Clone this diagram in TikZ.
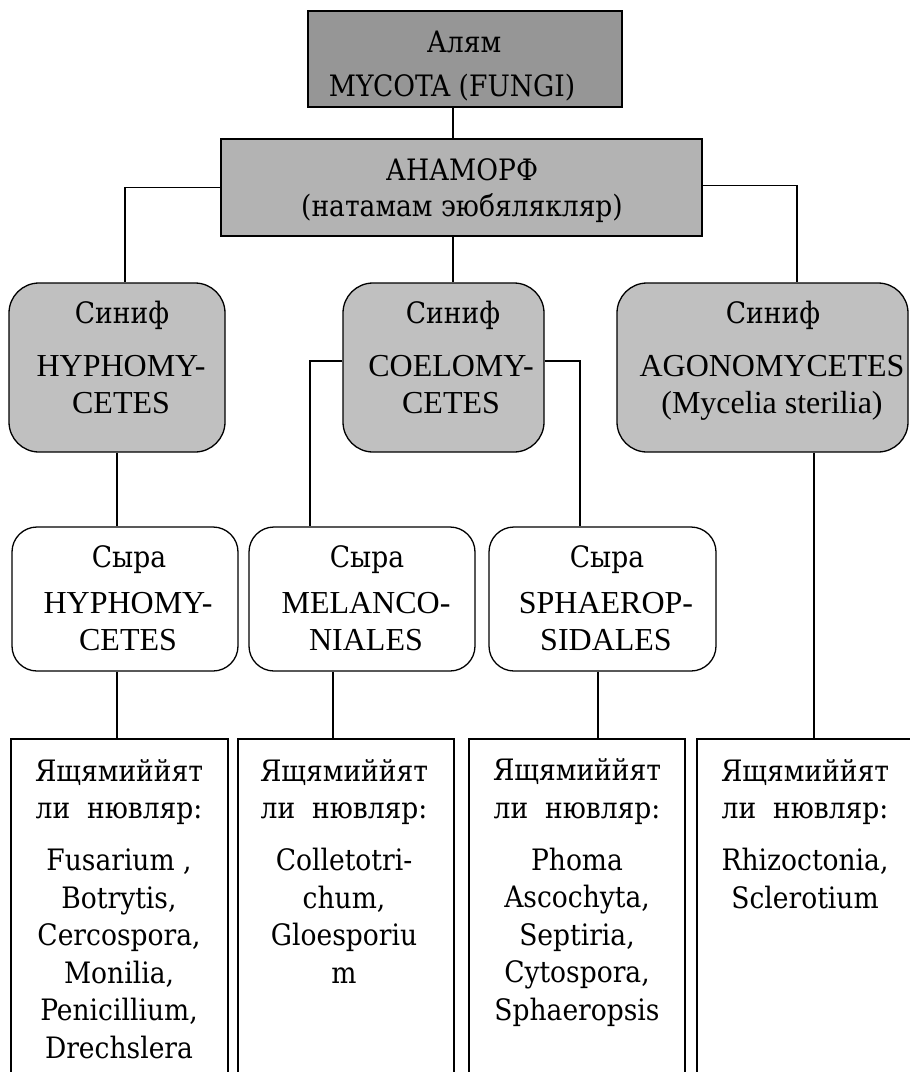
\documentclass[tikz,border=0pt]{standalone}
\usepackage{fontspec}
\setmainfont{DejaVu Serif Condensed}
\newfontfamily\tms{Liberation Serif}
\definecolor{gTop}{RGB}{150,150,150}
\definecolor{gAna}{RGB}{179,179,179}
\definecolor{gCls}{RGB}{192,192,192}
\begin{document}
\begin{tikzpicture}[x=1pt,y=-1pt,
  sqbox/.style={draw=black, line width=1.3pt, inner sep=0pt},
  rbox/.style={sqbox, rounded corners=30pt},
  obox/.style={sqbox, rounded corners=25pt, fill=white},
  conn/.style={draw=black, line width=1.2pt},
  cam/.style={font=\fontsize{29.5}{37.5}\selectfont, align=center, anchor=base, inner sep=0pt},
  tim/.style={font=\tms\fontsize{32}{36.5}\selectfont, align=center, anchor=base, inner sep=0pt}]
\useasboundingbox (0,0) rectangle (910,1072);
\clip (0,0) rectangle (910,1072);

% boxes
\node[sqbox, fill=gTop, minimum width=314pt, minimum height=96pt] (top) at (465,59) {};
\node[sqbox, fill=gAna, minimum width=481pt, minimum height=97pt] (anam) at (461.5,187.5) {};
\node[rbox, fill=gCls, minimum width=216pt, minimum height=169pt] (sA) at (117,367.5) {};
\node[rbox, fill=gCls, minimum width=201pt, minimum height=169pt] (sB) at (443.5,367.5) {};
\node[rbox, fill=gCls, minimum width=291pt, minimum height=169pt] (sC) at (762.5,367.5) {};
\node[obox, minimum width=226pt, minimum height=144pt] (oD) at (125,599) {};
\node[obox, minimum width=226pt, minimum height=144pt] (oE) at (362,599) {};
\node[obox, minimum width=227pt, minimum height=144pt] (oF) at (602.5,599) {};
\node[sqbox, minimum width=217pt, minimum height=361pt] (gG) at (119.5,919.5) {};
\node[sqbox, minimum width=216pt, minimum height=361pt] (gH) at (346,919.5) {};
\node[sqbox, minimum width=216pt, minimum height=361pt] (gI) at (577,919.5) {};
\node[sqbox, minimum width=228pt, minimum height=361pt] (gJ) at (811,919.5) {};

% connectors
\draw[conn] ([xshift=-12pt]top.south) -- ([xshift=-8.5pt]anam.north);
\draw[conn] (anam.west) -| ([xshift=8pt]sA.north);
\draw[conn] ([xshift=-8.5pt]anam.south) -- ([xshift=9.5pt]sB.north);
\draw[conn] ([yshift=2pt]anam.east) -| ([xshift=34.5pt]sC.north);
\draw[conn] (sA.south) -- ([xshift=-8pt]oD.north);
\draw[conn] ([yshift=6.5pt]sB.west) -| ([xshift=-52pt]oE.north);
\draw[conn] ([yshift=6.5pt]sB.east) -| ([xshift=-22.5pt]oF.north);
\draw[conn] ([xshift=51.5pt]sC.south) -- ([xshift=3pt]gJ.north);
\draw[conn] ([xshift=-8pt]oD.south) -- ([xshift=-2.5pt]gG.north);
\draw[conn] ([xshift=-29pt]oE.south) -- ([xshift=-13pt]gH.north);
\draw[conn] ([xshift=-4.5pt]oF.south) -- ([xshift=21pt]gI.north);

% texts (anchor=base is the baseline of the last line)
\node[cam] (t1) at (464,52) {Алям};
\node[cam] (t2) at (452,96) {MYCOTA (FUNGI)};
\node[cam, font=\fontsize{29.5}{36}\selectfont] (t3) at (462,216) {АНАМОРФ\\(натамам эюбялякляр)};

\node[cam] (tA1) at (122,323) {Синиф};
\node[tim] (tA2) at (121,413) {HYPHOMY-\\CETES};
\node[cam] (tB1) at (453,323) {Синиф};
\node[tim] (tB2) at (451,413) {COELOMY-\\CETES};
\node[cam] (tC1) at (773,323) {Синиф};
\node[tim] (tC2) at (772,413) {AGONOMYCETES\\(Mycelia sterilia)};

\node[cam] (tD1) at (129,567) {Сыра};
\node[tim] (tD2) at (128,650) {HYPHOMY-\\CETES};
\node[cam] (tE1) at (367,567) {Сыра};
\node[tim] (tE2) at (366,650) {MELANCO-\\NIALES};
\node[cam] (tF1) at (607,567) {Сыра};
\node[tim] (tF2) at (606,650) {SPHAEROP-\\SIDALES};

\node[cam] (tG) at (119,1058) {Ящямиййят\\ли\ \ нювляр:\\[14.5pt]Fusarium ,\\Botrytis,\\Cercospora,\\Monilia,\\Penicillium,\\Drechslera};
\node[cam] (tH) at (344,983) {Ящямиййят\\ли\ \ нювляр:\\[14.5pt]Colletotri-\\chum,\\Gloesporiu\\m};
\node[cam] (tI) at (577,1020) {Ящямиййят\\ли\ \ нювляр:\\[14.5pt]Phoma\\Ascochyta,\\Septiria,\\Cytospora,\\Sphaeropsis};
\node[cam] (tJ) at (805,908) {Ящямиййят\\ли\ \ нювляр:\\[14.5pt]Rhizoctonia,\\Sclerotium};
\end{tikzpicture}
\end{document}
